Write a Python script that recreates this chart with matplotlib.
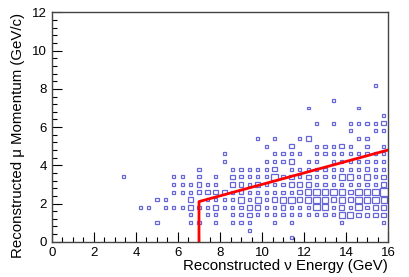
import matplotlib
matplotlib.use("Agg")
import matplotlib.pyplot as plt
from matplotlib.patches import Rectangle
from matplotlib.ticker import MultipleLocator
import numpy as np

plt.rcParams['font.family'] = ['Liberation Sans', 'DejaVu Sans']

# 2D histogram binning (GeV, GeV/c)
x_edges = np.arange(0, 16.01, 0.4)
y_edges = np.arange(0, 12.01, 0.4)

# bin contents: y-bin index -> list of (x-bin index, entries)
rows = {
    0:  [(28, 1)],
    1:  [(23, 1)],
    2:  [(12, 1), (16, 1), (17, 1), (19, 1), (21, 1), (22, 1), (23, 1), (26, 1), (28, 1), (34, 1), (39, 1)],
    3:  [(16, 1), (18, 1), (19, 1), (21, 1), (22, 1), (23, 2), (24, 1), (25, 1), (26, 1), (27, 1), (28, 1),
         (29, 1), (30, 1), (31, 1), (32, 1), (33, 1), (34, 3), (35, 3), (36, 2), (37, 2), (38, 2), (39, 2)],
    4:  [(10, 1), (11, 1), (13, 1), (14, 1), (15, 1), (16, 2), (17, 1), (18, 1), (19, 2), (20, 1), (21, 1),
         (22, 1), (23, 2), (24, 2), (25, 1), (26, 1), (27, 2), (28, 1), (29, 1), (30, 1), (31, 3), (32, 3),
         (33, 1), (34, 2), (35, 1), (36, 3), (37, 1), (38, 2), (39, 2)],
    5:  [(12, 1), (13, 1), (16, 2), (18, 1), (19, 1), (20, 1), (21, 1), (22, 3), (23, 1), (24, 3), (25, 1),
         (26, 2), (27, 3), (28, 3), (29, 2), (30, 3), (31, 3), (32, 3), (33, 2), (34, 3), (35, 2), (36, 3),
         (37, 3), (38, 3), (39, 3)],
    6:  [(14, 1), (15, 1), (16, 1), (17, 2), (18, 2), (19, 2), (20, 2), (21, 1), (22, 2), (23, 1), (24, 1),
         (25, 1), (26, 1), (27, 1), (28, 1), (29, 2), (30, 3), (31, 3), (32, 3), (33, 3), (34, 3), (35, 2),
         (36, 3), (37, 3), (38, 3), (39, 4)],
    7:  [(14, 1), (15, 1), (16, 1), (17, 2), (18, 1), (19, 1), (21, 2), (22, 2), (23, 1), (24, 2), (25, 1),
         (26, 1), (27, 1), (28, 2), (29, 2), (30, 2), (31, 1), (32, 1), (33, 1), (34, 1), (35, 1), (36, 1),
         (37, 1), (38, 1), (39, 2)],
    8:  [(8, 1), (14, 1), (15, 1), (17, 1), (19, 1), (21, 2), (22, 1), (23, 1), (24, 1), (25, 1), (26, 3),
         (27, 1), (28, 2), (29, 1), (30, 2), (31, 1), (32, 1), (33, 1), (34, 3), (35, 3), (36, 1), (37, 3),
         (38, 1), (39, 2)],
    9:  [(17, 1), (21, 1), (22, 1), (23, 1), (24, 1), (25, 1), (26, 2), (28, 1), (29, 1), (30, 1), (31, 1),
         (32, 1), (33, 1), (34, 1), (35, 1), (36, 1), (37, 2), (38, 1), (39, 1)],
    10: [(20, 1), (25, 1), (26, 1), (27, 1), (28, 2), (30, 1), (31, 1), (33, 1), (34, 1), (35, 1), (36, 1),
         (37, 1), (38, 1), (39, 1)],
    11: [(20, 1), (26, 1), (27, 1), (28, 1), (29, 1), (31, 1), (32, 1), (33, 1), (34, 1), (35, 1), (36, 1),
         (37, 1), (38, 1), (39, 1)],
    12: [(25, 1), (28, 2), (31, 1), (32, 1), (33, 1), (34, 2), (35, 1), (37, 1), (39, 1)],
    13: [(24, 1), (26, 1), (29, 1), (30, 2), (36, 1), (37, 1)],
    14: [(35, 1), (38, 1), (39, 1)],
    15: [(31, 1), (33, 1), (35, 1), (36, 1), (37, 1), (38, 1), (39, 2)],
    16: [(39, 1)],
    17: [(30, 1), (36, 1)],
    18: [(33, 1)],
    20: [(38, 1)],
}

# selection cut (red line)
cut_x = [7.0, 7.0, 16.0]
cut_y = [0.0, 2.1, 4.8]

fig = plt.figure(figsize=(4.09, 2.77), dpi=100)
ax = fig.add_axes([0.1271, 0.1274, 0.8216, 0.8275])

bw = x_edges[1] - x_edges[0]
bh = y_edges[1] - y_edges[0]
for j, cells in rows.items():
    for i, c in cells:
        cx = x_edges[i] + bw / 2
        cy = y_edges[j] + bh / 2
        f = 0.2 + 0.19 * c   # box side as a fraction of the bin
        w = bw * f
        h = bh * f
        ax.add_patch(Rectangle((cx - w / 2, cy - h / 2), w, h, fill=False,
                               edgecolor='#6666d8', lw=0.9))

ax.plot(cut_x, cut_y, color='#ff0000', lw=2)

ax.set_xlim(0, 16)
ax.set_ylim(0, 12)
ax.xaxis.set_major_locator(MultipleLocator(2))
ax.xaxis.set_minor_locator(MultipleLocator(0.5))
ax.yaxis.set_major_locator(MultipleLocator(2))
ax.yaxis.set_minor_locator(MultipleLocator(0.4))
ax.tick_params(which='both', direction='in', top=False, right=False, labelsize=9.5, colors='black')
ax.tick_params(which='major', length=7, width=0.8)
ax.tick_params(which='minor', length=3.5, width=0.8)
for s in ax.spines.values():
    s.set_linewidth(1.0)
    s.set_color('#444444')

ax.set_xlabel('Reconstructed \u03bd Energy (GeV)', fontsize=10.8, loc='right', labelpad=0)
ax.set_ylabel('Reconstructed \u03bc Momentum (GeV/c)', fontsize=10.8, loc='top', labelpad=5)

fig.savefig('out.png', dpi=100)
